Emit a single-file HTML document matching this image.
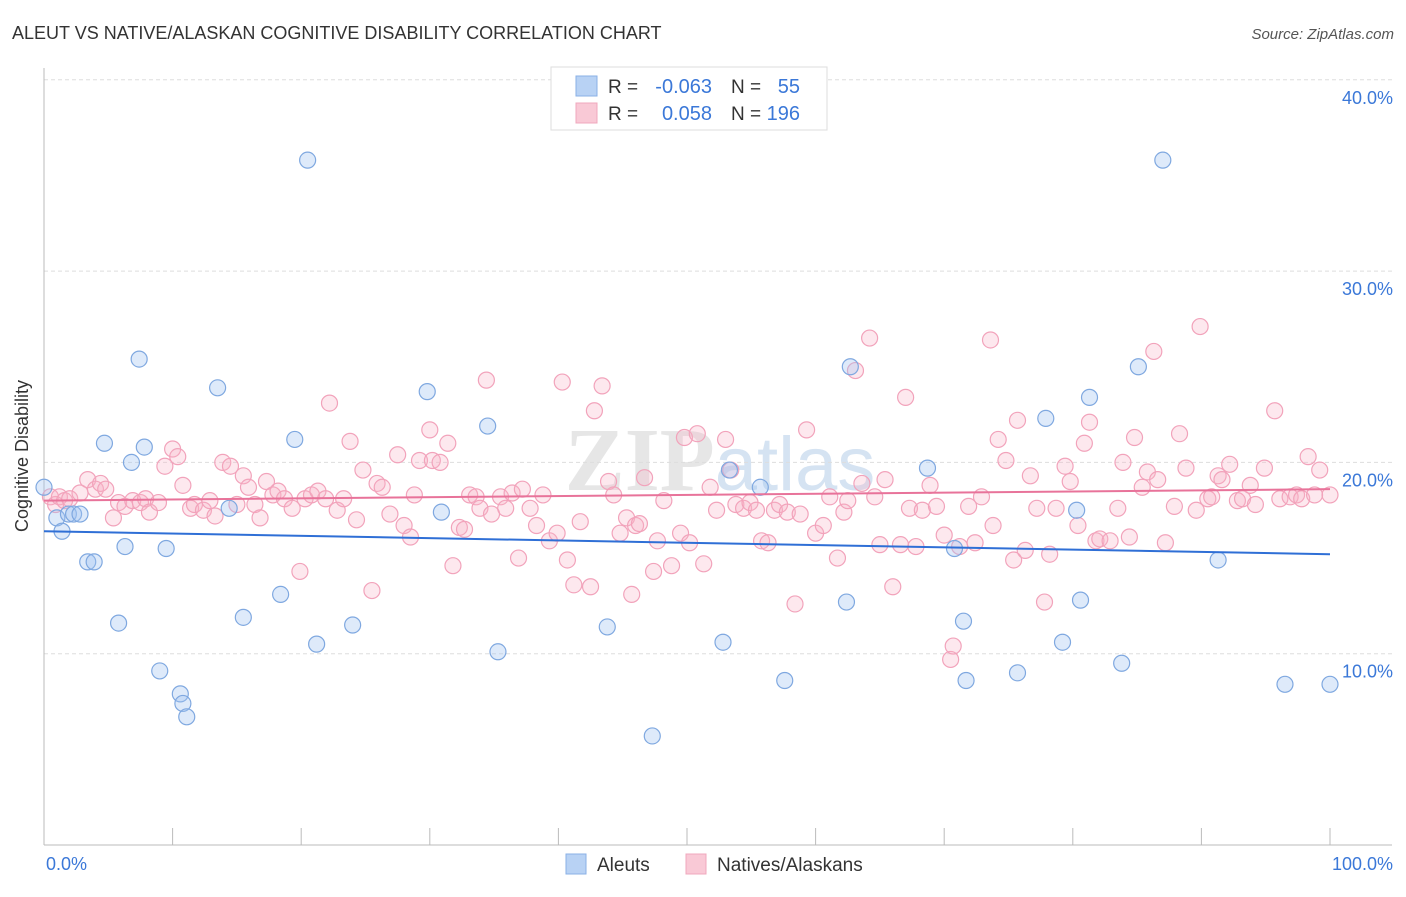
<!DOCTYPE html><html><head><meta charset="utf-8"><style>
body{margin:0;background:#fff;font-family:"Liberation Sans",sans-serif}
</style></head><body>
<svg width="1406" height="892" xmlns="http://www.w3.org/2000/svg" style="font-family:'Liberation Sans',sans-serif">
<text x="12" y="39" font-size="18" fill="#333">ALEUT VS NATIVE/ALASKAN COGNITIVE DISABILITY CORRELATION CHART</text>
<text x="1394" y="39" font-size="15" fill="#555" font-style="italic" text-anchor="end">Source: ZipAtlas.com</text>
<text x="720" y="490" font-size="90" fill="#e6e6e6" text-anchor="middle" font-family="Liberation Serif,serif" font-weight="bold">ZIP<tspan fill="#d5e3f2" font-family="Liberation Sans,sans-serif" font-weight="normal" font-size="76">atlas</tspan></text>
<g id="grid"></g>
<line x1="44" y1="68" x2="44" y2="845" stroke="#bbb"/>
<line x1="44" y1="845" x2="1392" y2="845" stroke="#bbb"/>
<g id="ticks"></g>
<text x="28" y="456" font-size="18" fill="#333" text-anchor="middle" transform="rotate(-90 28 456)">Cognitive Disability</text>
<text x="46" y="870" font-size="18" fill="#3b78d8">0.0%</text>
<text x="1393" y="870" font-size="18" fill="#3b78d8" text-anchor="end">100.0%</text>
<g id="pts"></g>
<g id="trend"></g>
<g>
<rect x="551" y="67" width="276" height="63" fill="#fff" stroke="#ddd"/>
<rect x="576" y="76" width="21" height="20" fill="#b8d2f4" stroke="#8ab0e6"/>
<rect x="576" y="103" width="21" height="20" fill="#f9c9d6" stroke="#f0a8bd"/>
<text x="608" y="93" font-size="19" fill="#333">R =</text>
<text x="712" y="93" font-size="20" fill="#3b78d8" text-anchor="end">-0.063</text>
<text x="731" y="93" font-size="19" fill="#333">N =</text>
<text x="800" y="93" font-size="20" fill="#3b78d8" text-anchor="end">55</text>
<text x="608" y="120" font-size="19" fill="#333">R =</text>
<text x="712" y="120" font-size="20" fill="#3b78d8" text-anchor="end">0.058</text>
<text x="731" y="120" font-size="19" fill="#333">N =</text>
<text x="800" y="120" font-size="20" fill="#3b78d8" text-anchor="end">196</text>
</g>
<g>
<rect x="566" y="854" width="20" height="20" fill="#b8d2f4" stroke="#8ab0e6"/>
<text x="597" y="871" font-size="19" fill="#333">Aleuts</text>
<rect x="686" y="854" width="20" height="20" fill="#f9c9d6" stroke="#f0a8bd"/>
<text x="717" y="871" font-size="19" fill="#333">Natives/Alaskans</text>
</g>
</svg>
<script>
const yTicks=[10,20,30,40];
const xTicks=[0,10,20,30,40,50,60,70,80,90,100];
const aleutX=[0,1.0,1.4,1.9,2.3,2.8,3.4,3.9,4.7,5.8,6.3,6.8,7.4,7.8,9.0,9.5,10.6,10.8,11.1,13.5,14.4,15.5,18.4,19.5,20.5,21.2,24.0,29.8,30.9,34.5,35.3,43.8,47.3,52.8,53.3,55.7,57.6,62.4,62.7,68.7,70.8,71.5,71.7,75.7,77.9,79.2,80.3,80.6,81.3,83.8,85.1,87.0,91.3,96.5,100];
const aleutY=[18.7,17.1,16.4,17.3,17.3,17.3,14.8,14.8,21.0,11.6,15.6,20.0,25.4,20.8,9.1,15.5,7.9,7.4,6.7,23.9,17.6,11.9,13.1,21.2,35.8,10.5,11.5,23.7,17.4,21.9,10.1,11.4,5.7,10.6,19.6,18.7,8.6,12.7,25.0,19.7,15.5,11.7,8.6,9.0,22.3,10.6,17.5,12.8,23.4,9.5,25.0,35.8,14.9,8.4,8.4];
const nativeX=[0.5,0.9,1.2,1.6,2.0,2.8,3.4,4.0,4.4,4.8,5.4,5.8,6.3,6.9,7.5,7.9,8.2,8.9,9.4,10.0,10.4,10.8,11.4,11.7,12.4,12.9,13.3,13.9,14.5,15.0,15.5,15.9,16.4,16.8,17.3,17.8,18.2,18.7,19.3,19.9,20.3,20.8,21.3,21.9,22.2,22.8,23.3,23.8,24.3,24.8,25.5,25.9,26.3,26.9,27.5,28.0,28.5,28.8,29.2,30.0,30.2,30.8,31.4,31.8,32.3,32.7,33.1,33.6,33.9,34.4,34.8,35.5,35.9,36.4,36.9,37.2,37.8,38.3,38.8,39.3,39.9,40.3,40.7,41.2,41.7,42.5,42.8,43.4,43.9,44.3,44.8,45.3,45.7,46.0,46.3,46.7,47.4,47.7,48.2,48.8,49.5,49.8,50.2,50.8,51.3,51.8,52.3,53.0,53.4,53.8,54.4,54.9,55.4,55.8,56.3,56.8,57.2,57.8,58.4,58.8,59.3,60.0,60.6,61.1,61.7,62.2,62.5,63.1,63.6,64.2,64.6,65.0,65.4,66.0,66.6,67.0,67.3,67.8,68.3,68.9,69.4,70.0,70.5,70.7,71.2,71.9,72.4,72.9,73.6,73.8,74.2,74.8,75.4,75.7,76.3,76.7,77.2,77.8,78.2,78.7,79.4,79.8,80.4,80.9,81.3,81.8,82.1,82.9,83.5,83.9,84.4,84.8,85.4,85.8,86.3,86.6,87.2,87.9,88.3,88.8,89.6,89.9,90.5,90.8,91.3,91.6,92.2,92.8,93.2,93.8,94.2,94.9,95.7,96.1,96.9,97.4,97.8,98.3,98.8,99.2,100];
const nativeY=[18.2,17.8,18.2,18.0,18.1,18.4,19.1,18.6,18.9,18.6,17.1,17.9,17.7,18.0,17.9,18.1,17.4,17.9,19.8,20.7,20.3,18.8,17.6,17.8,17.5,18.0,17.2,20.0,19.8,17.8,19.3,18.7,17.8,17.1,19.0,18.3,18.5,18.1,17.6,14.3,18.1,18.3,18.5,18.1,23.1,17.5,18.1,21.1,17.0,19.6,13.3,18.9,18.7,17.3,20.4,16.7,16.1,18.3,20.1,21.7,20.1,20.0,21.0,14.6,16.6,16.5,18.3,18.2,17.6,24.3,17.3,18.2,17.6,18.4,15.0,18.6,17.6,16.7,18.3,15.9,16.3,24.2,14.9,13.6,16.9,13.5,22.7,24.0,19.0,18.3,16.3,17.1,13.1,16.7,16.8,19.2,14.3,15.9,18.0,14.6,16.3,21.3,15.8,21.5,14.7,18.7,17.5,21.2,19.6,17.8,17.6,17.9,17.5,15.9,15.8,17.5,17.8,17.4,12.6,17.3,21.7,16.3,16.7,18.2,15.0,17.4,18.0,24.8,18.9,26.5,18.2,15.7,19.1,13.5,15.7,23.4,17.6,15.6,17.5,18.8,17.7,16.2,9.7,10.4,15.6,17.7,15.8,18.2,26.4,16.7,21.2,20.1,14.9,22.2,15.4,19.3,17.6,12.7,15.2,17.6,19.8,19.0,16.7,21.0,22.1,15.9,16.0,15.9,17.6,20.0,16.1,21.3,18.7,19.5,25.8,19.1,15.8,17.7,21.5,19.7,17.5,27.1,18.1,18.2,19.3,19.1,19.9,18.0,18.1,18.8,17.8,19.7,22.7,18.1,18.2,18.3,18.1,20.3,18.3,19.6,18.3];
const aleutTrend=[16.4,15.2];
const nativeTrend=[18.0,18.6];
const NS='http://www.w3.org/2000/svg';
const sx=v=>44+v*12.86, sy=v=>845-v*19.13;
function mk(tag,attrs,parent){const e=document.createElementNS(NS,tag);for(const k in attrs)e.setAttribute(k,attrs[k]);parent.appendChild(e);return e;}
const grid=document.getElementById('grid'),ticks=document.getElementById('ticks'),pts=document.getElementById('pts'),trend=document.getElementById('trend');
yTicks.forEach(t=>{const l=mk('line',{x1:44,x2:1392,y1:sy(t),y2:sy(t),stroke:'#ddd','stroke-dasharray':'4 3'},grid);


const tx=mk('text',{x:1393,y:sy(t)+24,'font-size':18,fill:'#3b78d8','text-anchor':'end'},ticks);tx.textContent=t.toFixed(1)+'%';

});
xTicks.forEach(t=>{const l=mk('line',{x1:sx(t),x2:sx(t),y1:828,y2:845,stroke:'#bbb'},ticks);

});
nativeX.forEach((x,i)=>{const c=mk('circle',{cx:sx(x),cy:sy(nativeY[i]),r:8,fill:'rgba(248,180,200,0.3)',stroke:'#f2a3bb','stroke-width':1.2},pts);

});
aleutX.forEach((x,i)=>{const c=mk('circle',{cx:sx(x),cy:sy(aleutY[i]),r:8,fill:'rgba(160,196,240,0.35)',stroke:'#7fa8e0','stroke-width':1.2},pts);

});
const t1=mk('line',{x1:sx(0),x2:sx(100),y1:sy(aleutTrend[0]),y2:sy(aleutTrend[1]),stroke:'#2f6fd6','stroke-width':2},trend);


const t2=mk('line',{x1:sx(0),x2:sx(100),y1:sy(nativeTrend[0]),y2:sy(nativeTrend[1]),stroke:'#e8739a','stroke-width':2},trend);


</script></body></html>
